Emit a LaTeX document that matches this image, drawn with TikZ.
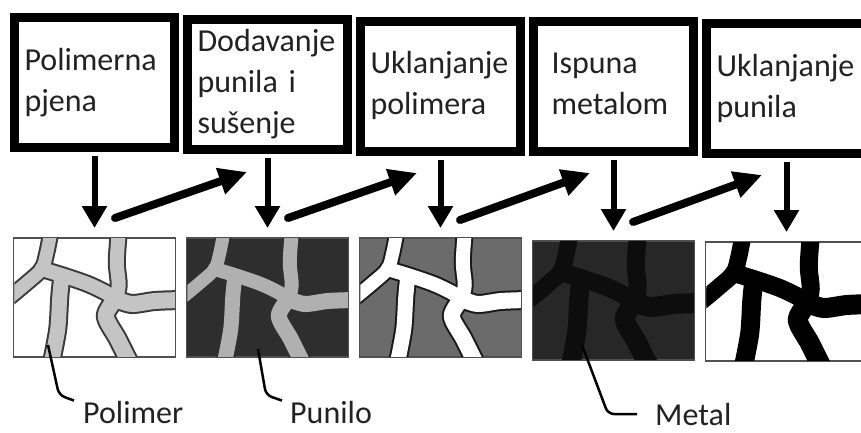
\documentclass[tikz,border=0pt]{standalone}
\usepackage{fontspec}
\setmainfont{Carlito}
\usetikzlibrary{positioning,arrows.meta}

\definecolor{inktext}{HTML}{222222}
\definecolor{framegray}{HTML}{505050}
\definecolor{foamgray}{HTML}{C4C4C4}
\definecolor{foamedge}{HTML}{3A3A3A}
\definecolor{fillerdark}{HTML}{2E2E2E}
\definecolor{fillerlight}{HTML}{B0B0B0}
\definecolor{fillermid}{HTML}{6B6B6B}
\definecolor{metaldark}{HTML}{272727}
\hyphenpenalty=10000

% struts of the foam, in image coordinates (#1 extra width, #2 colour)
\newcommand{\foam}[2]{%
  \draw[#2, line width=13pt+#1] plot[smooth] coordinates {(38,-4) (34,16) (29,32) (14,46) (-4,61)};
  \draw[#2, line width=14pt+#1] plot[smooth] coordinates {(29,32) (52,39) (75,47) (92,55) (103,62)};
  \draw[#2, line width=14pt+#1] plot[smooth] coordinates {(106,-4) (104,25) (106,48) (103,62)};
  \draw[#2, line width=16pt+#1] plot[smooth] coordinates {(103,62) (119,67) (142,64) (168,63)};
  \draw[#2, line width=16pt+#1] plot[smooth] coordinates {(103,62) (93,79) (105,102) (116,124)};
  \draw[#2, line width=15pt+#1] plot[smooth] coordinates {(49,40) (47,60) (45,92) (39,124)};
}
\newcommand{\foamfill}[3]{%
  \begin{scope}[shift={(#1.north west)}, line cap=round, line join=round]
    \clip (1.5,1.5) rectangle (162,119);
    \foam{4pt}{#2}
    \foam{0pt}{#3}
  \end{scope}}

\begin{document}
\begin{tikzpicture}[
    x=1pt, y=-1pt,
    stepbox/.style={rectangle, draw=black, line width=9pt, minimum width=160pt, minimum height=130pt, text width=140pt, align=left, inner sep=2pt, text=inktext, font=\fontsize{32}{41}\selectfont, execute at begin node=\strut, execute at end node=\strut},
    foto/.style={rectangle, draw=framegray, line width=1.5pt, minimum width=162pt, minimum height=119pt, inner sep=0pt},
    tag/.style={inner sep=0pt, text=inktext, font=\fontsize{32}{41}\selectfont},
    down/.style={draw, line width=6pt, -{Triangle[length=22pt, width=24pt]}, shorten <=4pt, shorten >=9pt},
    diag/.style={draw, line width=8pt, line cap=round, -{Triangle[length=28pt, width=26pt]}},
    leader/.style={draw, line width=2.5pt, rounded corners=6pt}
]
    \useasboundingbox (0,0) rectangle (861,432);
    \clip (0,0) rectangle (861,432);

    % Process steps
    \node [stepbox] (b1) at (94.5,82.5) {Polimerna\\pjena};
    \node [stepbox, right=4pt of b1, yshift=-1.5pt] (b2) {Dodavanje\\punila i\\sušenje};
    \node [stepbox, right=4pt of b2, yshift=-2pt] (b3) {Uklanjanje\\polimera};
    \node [stepbox, right=4pt of b3, text width=124pt] (b4) {Ispuna\\metalom};
    \node [stepbox, right=4pt of b4, yshift=-2.5pt] (b5) {Uklanjanje\\punila};

    % Structure after each step
    \node [foto, fill=white, below=85pt of b1] (img1) {};
    \node [foto, fill=fillerdark, right=9.5pt of img1] (img2) {};
    \node [foto, fill=fillermid, right=9.5pt of img2] (img3) {};
    \node [foto, fill=metaldark, right=9.5pt of img3, yshift=-3pt] (img4) {};
    \node [foto, fill=white, right=9.5pt of img4, yshift=-1pt] (img5) {};

    \foamfill{img1}{foamedge}{foamgray}
    \foamfill{img2}{fillerdark}{fillerlight}
    \foamfill{img3}{black!90}{white}
    \foamfill{img4}{black!95}{black!95}
    \foamfill{img5}{black}{black}

    % Arrows
    \path [down] (b1) -- (img1);
    \path [down] (b2) -- (img2);
    \path [down] (b3) -- (img3);
    \path [down] (b4) -- (img4);
    \path [down] (b5) -- (img5);

    \coordinate (s1) at (115,218); \coordinate (t1) at (247,172);
    \coordinate (s2) at (288,218); \coordinate (t2) at (417,173);
    \coordinate (s3) at (460,220); \coordinate (t3) at (590,173);
    \coordinate (s4) at (633,222); \coordinate (t4) at (762,175);
    \path [diag] (s1) -- (t1);
    \path [diag] (s2) -- (t2);
    \path [diag] (s3) -- (t3);
    \path [diag] (s4) -- (t4);

    % Labels
    \node [tag, anchor=base west] (polimer) at (83,423) {Polimer};
    \node [tag, anchor=base west] (punilo) at (290,423) {Punilo};
    \node [tag, anchor=base west] (metal) at (655,425) {Metal};

    \coordinate (polimerfoot) at (48,345);
    \coordinate (punilofoot) at (258,349);
    \coordinate (metalfoot) at (582,345);
    \path [leader] (polimerfoot) -- ++(11,50) -- ([xshift=-9pt]polimer.north west);
    \path [leader] (punilofoot) -- ++(8,46) -- ([xshift=-8pt]punilo.north west);
    \path [leader] (metalfoot) -- ++(26,69) -- ([xshift=-18pt]metal.west);

\end{tikzpicture}
\end{document}
